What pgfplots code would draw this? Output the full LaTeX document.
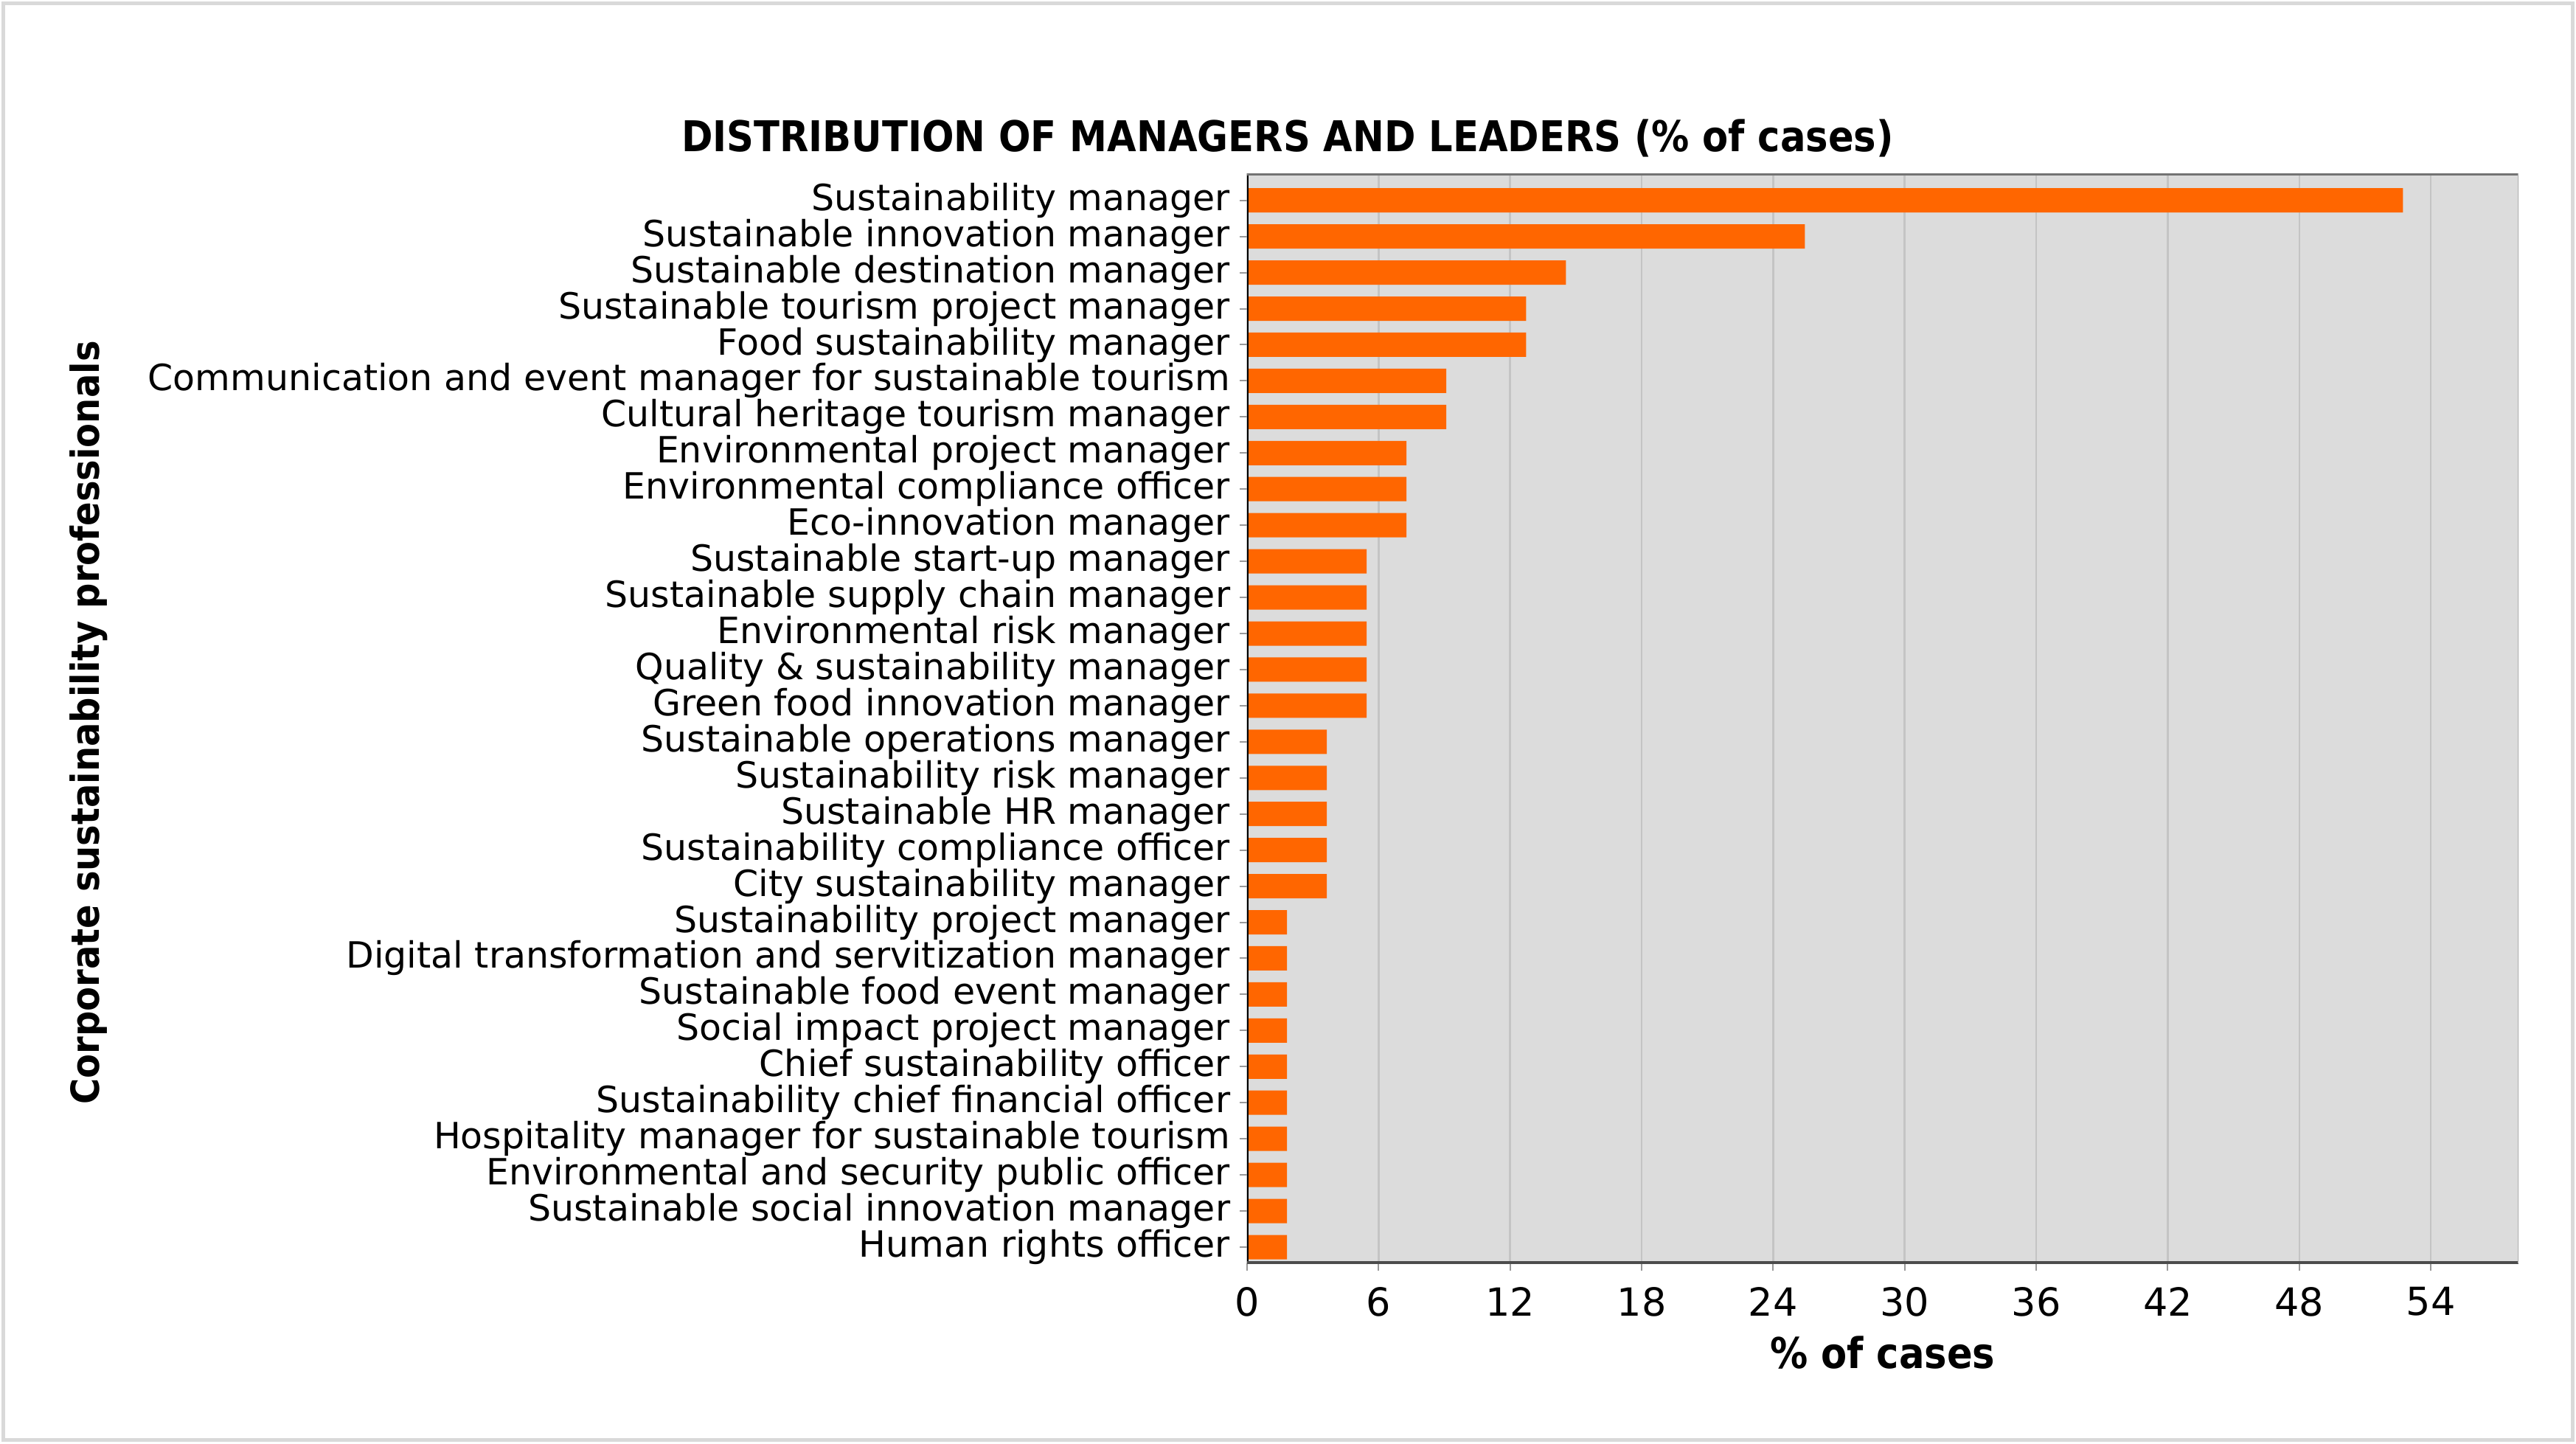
\documentclass[border=0pt]{standalone}
\usepackage{pgfplots}
\pgfplotsset{compat=1.18}
\usepackage{fontspec}
\setmainfont{DejaVu Sans}

\definecolor{barorange}{HTML}{FF6600}
\definecolor{plotbg}{HTML}{DCDCDC}
\definecolor{gridgray}{HTML}{C4C4C4}
\definecolor{framegray}{HTML}{D9D9D9}

\begin{document}
\begin{tikzpicture}[x=1pt,y=1pt]
\useasboundingbox (0,0) rectangle (698.6,391.4);
\draw[framegray, line width=0.9pt] (0.9,0.9) rectangle (697.7,390.5);

\begin{axis}[
  at={(338.2pt,48.8pt)}, anchor=south west,
  width=344.8pt, height=295.6pt, scale only axis,
  xbar, bar width=6.6pt,
  xmin=0, xmax=58,
  ymin=-0.75, ymax=29.45, y dir=reverse,
  xtick={0,6,...,54},
  ytick={0,...,29},
  yticklabels={
    {Sustainability manager},
    {Sustainable innovation manager},
    {Sustainable destination manager},
    {Sustainable tourism project manager},
    {Food sustainability manager},
    {Communication and event manager for sustainable tourism},
    {Cultural heritage tourism manager},
    {Environmental project manager},
    {Environmental compliance officer},
    {Eco-innovation manager},
    {Sustainable start-up manager},
    {Sustainable supply chain manager},
    {Environmental risk manager},
    {Quality \& sustainability manager},
    {Green food innovation manager},
    {Sustainable operations manager},
    {Sustainability risk manager},
    {Sustainable HR manager},
    {Sustainability compliance officer},
    {City sustainability manager},
    {Sustainability project manager},
    {Digital transformation and servitization manager},
    {Sustainable food event manager},
    {Social impact project manager},
    {Chief sustainability officer},
    {Sustainability chief financial officer},
    {Hospitality manager for sustainable tourism},
    {Environmental and security public officer},
    {Sustainable social innovation manager},
    {Human rights officer}},
  axis background/.style={fill=plotbg},
  xmajorgrids, grid style={gridgray, line width=0.5pt},
  axis line style={draw=none},
  tick align=outside, major tick length=2pt,
  xtick pos=bottom, ytick pos=left,
  tick style={gray!80, line width=0.4pt},
  /pgf/number format/assume math mode=true,
  yticklabel style={font=\fontsize{9.8}{10}\selectfont, inner sep=2.4pt},
  xticklabel style={font=\fontsize{10.5}{12}\selectfont, yshift=-1pt},
]
\addplot[draw=none, fill=barorange] coordinates {
  (52.73,0) (25.45,1) (14.55,2) (12.73,3) (12.73,4)
  (9.09,5) (9.09,6) (7.27,7) (7.27,8) (7.27,9)
  (5.45,10) (5.45,11) (5.45,12) (5.45,13) (5.45,14)
  (3.64,15) (3.64,16) (3.64,17) (3.64,18) (3.64,19)
  (1.82,20) (1.82,21) (1.82,22) (1.82,23) (1.82,24)
  (1.82,25) (1.82,26) (1.82,27) (1.82,28) (1.82,29)
};
% frame of the plotting area
\draw[black, line width=0.7pt] (axis description cs:0,0) -- (axis description cs:0,1);
\draw[black!70, line width=1.3pt] (axis description cs:0,0) -- (axis description cs:1,0);
\draw[black!55, line width=1.1pt] (axis description cs:0,1) -- (axis description cs:1,1);
\draw[black!30, line width=0.6pt] (axis description cs:1,0) -- (axis description cs:1,1);
\end{axis}

\node[font=\fontsize{11.5}{13}\selectfont\bfseries] at (349.2,354.0)
  {\scalebox{0.89}[1]{DISTRIBUTION OF MANAGERS AND LEADERS (\% of cases)}};
\node[font=\fontsize{11.5}{13}\selectfont\bfseries] at (510.6,24.6)
  {\scalebox{0.89}[1]{\% of cases}};
\node[font=\fontsize{10.5}{12}\selectfont\bfseries, rotate=90] at (24.0,195.4)
  {\scalebox{0.915}[1]{Corporate sustainability professionals}};
\end{tikzpicture}
\end{document}
